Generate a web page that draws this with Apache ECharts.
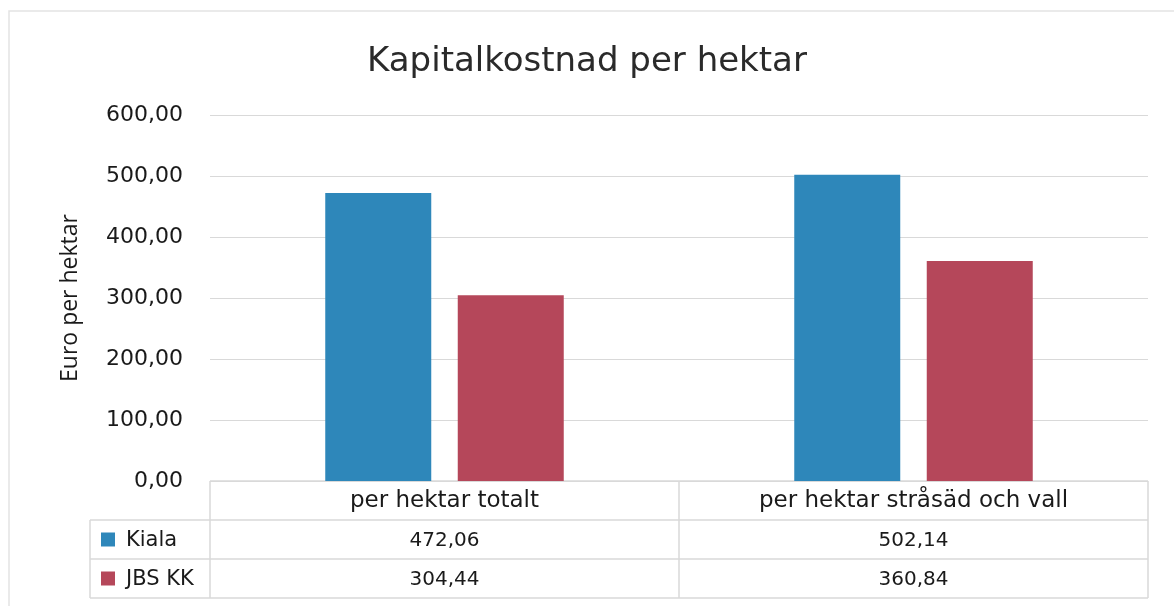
<!DOCTYPE html>
<html>
<head>
<meta charset="utf-8">
<script src="https://cdn.jsdelivr.net/npm/echarts@6/dist/echarts.min.js"></script>
<style>
  html, body { margin: 0; padding: 0; background: #fff; }
  #main { width: 1174px; height: 606px; }
</style>
</head>
<body>
<div id="main"></div>
<script>
// data
const categories = ['per hektar totalt', 'per hektar stråsäd och vall'];
const seriesNames = ['Kiala', 'JBS KK'];
const kiala = [472.06, 502.14];
const jbs = [304.44, 360.84];
const colors = ['#2E87BA', '#B5475A'];

const WIDE = '"DejaVu Sans", Verdana, sans-serif';
const NARROW = '"Open Sans", "Noto Sans", sans-serif';
const gridL = 210, gridR = 1148, gridT = 115, gridB = 481;
const rowH = 39;

const chart = echarts.init(document.getElementById('main'));

function fmt(v) {
  return v.toFixed(2).replace('.', ',');
}

let option = {
  animation: false,
  backgroundColor: '#fff',
  title: {
    text: 'Kapitalkostnad per hektar',
    left: 'center',
    top: 40,
    textStyle: { fontFamily: WIDE, fontSize: 34, fontWeight: 'normal', color: '#2a2a2a' }
  },
  grid: { left: gridL, right: 1174 - gridR, top: gridT, bottom: 606 - gridB },
  xAxis: {
    type: 'category',
    data: categories,
    axisLine: { show: false },
    axisTick: { show: false },
    axisLabel: { show: false }
  },
  yAxis: {
    type: 'value',
    min: 0,
    max: 600,
    interval: 100,
    name: 'Euro per hektar',
    nameLocation: 'middle',
    nameGap: 128,
    nameTextStyle: { fontFamily: NARROW, fontSize: 23, color: '#1a1a1a' },
    axisLabel: {
      formatter: fmt,
      fontFamily: WIDE, fontSize: 22, color: '#1a1a1a', margin: 27
    },
    splitLine: { lineStyle: { color: '#d9d9d9', width: 1 } }
  },
  series: [
    { name: seriesNames[0], type: 'bar', data: kiala, itemStyle: { color: colors[0] },
      barWidth: 106, barGap: '25%' },
    { name: seriesNames[1], type: 'bar', data: jbs, itemStyle: { color: colors[1] },
      barWidth: 106 }
  ]
};
chart.setOption(option);

// data table under the plot
function buildTable() {
  const line = { stroke: '#d9d9d9', lineWidth: 1.5 };
  const g = [];
  const rows = [kiala, jbs];
  const top = gridB, bottom = gridB + rowH * 3;
  // outer frame of the chart
  g.push({ type: 'rect', shape: { x: 9, y: 11, width: 1180, height: 620 }, style: { fill: null, stroke: '#e3e3e3', lineWidth: 1.5 }, silent: true });
  // horizontal lines
  g.push({ type: 'line', shape: { x1: gridL, y1: top, x2: gridR, y2: top }, style: line });
  for (let r = 1; r <= 3; r++) {
    g.push({ type: 'line', shape: { x1: 90, y1: top + rowH * r, x2: gridR, y2: top + rowH * r }, style: line });
  }
  // vertical lines
  g.push({ type: 'line', shape: { x1: 90, y1: top + rowH, x2: 90, y2: bottom }, style: line });
  const catW = (gridR - gridL) / categories.length;
  for (let c = 0; c <= categories.length; c++) {
    const x = gridL + catW * c;
    g.push({ type: 'line', shape: { x1: x, y1: top, x2: x, y2: bottom }, style: line });
  }
  const txt = { fontFamily: WIDE, fontSize: 19, fill: '#1a1a1a', align: 'center', verticalAlign: 'middle' };
  categories.forEach((cat, i) => {
    const cx = chart.convertToPixel({ xAxisIndex: 0 }, cat);
    g.push({ type: 'text', x: cx, y: top + rowH / 2 + 1, style: Object.assign({ text: cat }, txt, { fontSize: 23 }) });
    rows.forEach((vals, r) => {
      g.push({ type: 'text', x: cx, y: top + rowH * (r + 1.5) + 1, style: Object.assign({ text: fmt(vals[i]) }, txt, { fontSize: 20 }) });
    });
  });
  seriesNames.forEach((name, r) => {
    const cy = top + rowH * (r + 1.5);
    g.push({ type: 'rect', shape: { x: 101, y: cy - 7, width: 14, height: 14 }, style: { fill: colors[r] } });
    g.push({ type: 'text', x: 126, y: cy + 1, style: Object.assign({ text: name }, txt, { align: 'left', fontSize: 21 }) });
  });
  chart.setOption({ graphic: g });
}
buildTable();
</script>
</body>
</html>
